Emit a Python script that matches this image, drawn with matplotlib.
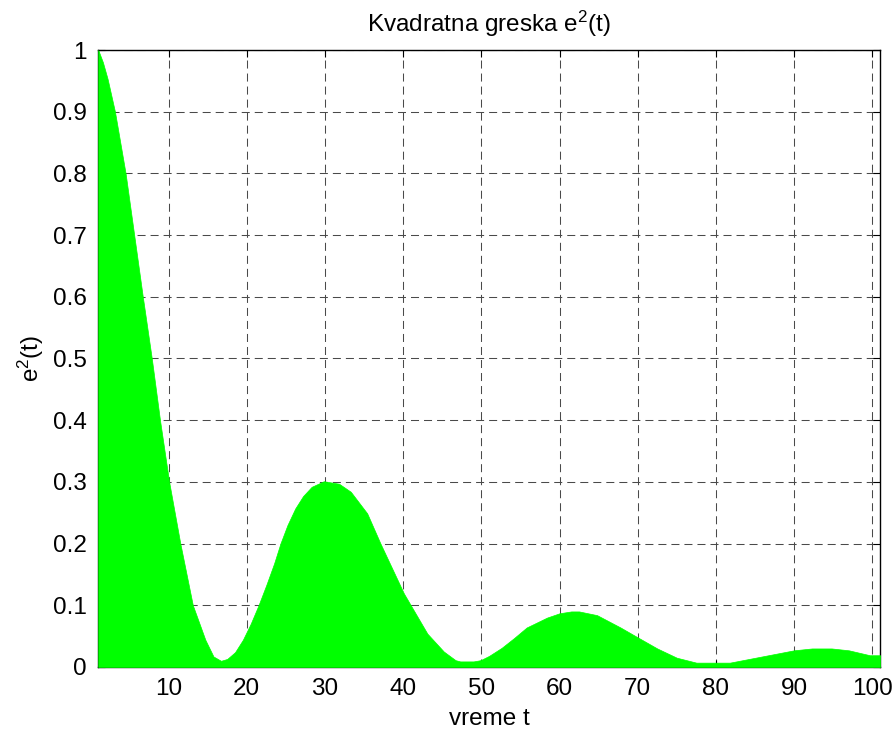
import matplotlib
matplotlib.use("Agg")
import matplotlib.pyplot as plt

plt.rcParams['font.family'] = ['Liberation Sans', 'DejaVu Sans']
plt.rcParams['mathtext.fontset'] = 'custom'
plt.rcParams['mathtext.rm'] = 'Liberation Sans'
plt.rcParams['mathtext.it'] = 'Liberation Sans'

# time samples and squared error e^2(t)
t = [1, 1.6, 2.2, 3.14, 4.5, 5.6, 6.7, 7.85, 8.9, 10.07, 11.5, 13.1, 14.7,
     15.74, 16.7, 17.5, 18.5, 19.5, 20.5, 21.5, 22.5, 23.5, 24.3, 25.2,
     26.2, 27.2, 28.3, 29.85, 31.8, 33.3, 35.4, 37.1, 40.1, 43.1, 45.2,
     46.7, 47.3, 49, 49.9, 51, 52.6, 54.2, 55.8, 58.4, 60, 61.5, 62.5,
     64.8, 67.8, 70, 72.5, 75, 77.5, 81.8, 90, 92.3, 94.8, 97, 99.7, 101]
e2 = [1.0, 0.98, 0.953, 0.9, 0.8, 0.7, 0.6, 0.5, 0.4, 0.3, 0.2, 0.1, 0.044,
      0.017, 0.010, 0.013, 0.024, 0.044, 0.07, 0.1, 0.133, 0.168, 0.2,
      0.23, 0.257, 0.277, 0.292, 0.301, 0.297, 0.284, 0.249, 0.2, 0.119,
      0.054, 0.025, 0.011, 0.009, 0.009, 0.011, 0.018, 0.031, 0.047, 0.064,
      0.08, 0.087, 0.09, 0.09, 0.084, 0.064, 0.048, 0.03, 0.015, 0.007,
      0.007, 0.027, 0.030, 0.030, 0.027, 0.019, 0.019]

x_ticks = [10, 20, 30, 40, 50, 60, 70, 80, 90, 100]
y_ticks = [0, 0.1, 0.2, 0.3, 0.4, 0.5, 0.6, 0.7, 0.8, 0.9, 1]
y_tick_labels = ['0', '0.1', '0.2', '0.3', '0.4', '0.5', '0.6', '0.7', '0.8', '0.9', '1']

fig = plt.figure(figsize=(8.93, 7.31), dpi=100)
ax = fig.add_axes([0.110, 0.0876, 0.8755, 0.844])

ax.fill_between(t, e2, 0, facecolor='#00ff00', edgecolor='#00ff00',
                linewidth=0.5, zorder=3)

ax.set_xlim(1, 101)
ax.set_ylim(0, 1)
ax.set_xticks(x_ticks)
ax.set_yticks(y_ticks)
ax.set_yticklabels(y_tick_labels)

ax.grid(True, color='#4a4a4a', linestyle=(0, (7.7, 4.8)), linewidth=0.75, zorder=1)
ax.set_axisbelow(True)
ax.tick_params(direction='in', length=5, width=0.8, top=True, right=True,
               labelsize=17.5, pad=8, colors='black')
for sp in ax.spines.values():
    sp.set_linewidth(1.0)
    sp.set_color('black')
    sp.set_zorder(2.5)

ax.set_title(r'Kvadratna greska e$^2$(t)', fontsize=17.5, pad=13)
ax.set_xlabel('vreme t', fontsize=17.5, labelpad=6)
ax.set_ylabel(r'e$^2$(t)', fontsize=17.5, labelpad=5)

fig.savefig('out.png', dpi=100)
